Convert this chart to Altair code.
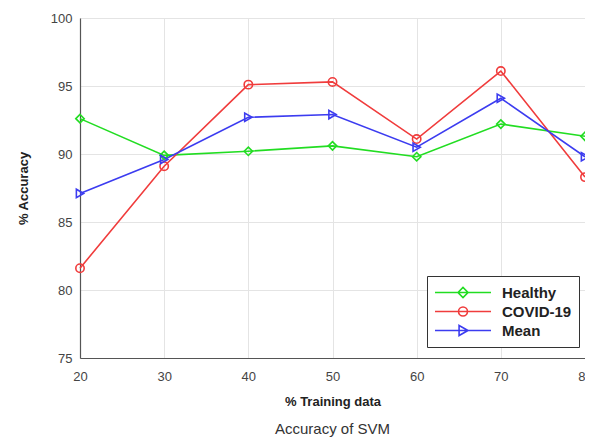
import altair as alt
import pandas as pd

training = [20, 30, 40, 50, 60, 70, 80]
healthy = [92.6, 89.9, 90.2, 90.6, 89.8, 92.2, 91.3]
covid = [81.6, 89.1, 95.1, 95.3, 91.1, 96.1, 88.3]
mean = [87.1, 89.6, 92.7, 92.9, 90.5, 94.1, 89.8]
series = ["Healthy", "COVID-19", "Mean"]
colors = ["#22dd22", "#f03c3c", "#3c3cf0"]
marker_shapes = ["diamond", "circle", "triangle-right"]
legend_paths = [
    "M-1,0H1M-0.18,0L0,-0.18L0.18,0L0,0.18Z",
    "M-1,0H1M0.16,0A0.16,0.16 0 1,1 -0.16,0A0.16,0.16 0 1,1 0.16,0",
    "M-1,0H1M-0.14,-0.18L0.18,0L-0.14,0.18Z",
]
y_ticks = [75, 80, 85, 90, 95, 100]

rows = []
for name, vals in zip(series, [healthy, covid, mean]):
    for t, v in zip(training, vals):
        rows.append({"training": t, "accuracy": v, "series": name})
df = pd.DataFrame(rows)

FONT = "Liberation Sans"

x = alt.X("training:Q",
          scale=alt.Scale(domain=[20, 80], nice=False, zero=False),
          axis=alt.Axis(values=training, title="% Training data", grid=True,
                        ticks=False, labelPadding=12, titlePadding=12,
                        labelFlush=False, labelOverlap=False,
                        titleFontWeight="bold", titleFontSize=13,
                        labelFontSize=13, format="d"))
y = alt.Y("accuracy:Q",
          scale=alt.Scale(domain=[75, 100], nice=False, zero=False),
          axis=alt.Axis(values=y_ticks, title="% Accuracy", grid=True,
                        ticks=False, labelPadding=8, titlePadding=20,
                        titleFontWeight="bold", titleFontSize=13,
                        labelFontSize=13))

color_scale = alt.Scale(domain=series, range=colors)

leg = dict(
    title=None, orient="none", legendX=347, legendY=258,
    strokeColor="#333333", fillColor="white", padding=7,
    symbolSize=3136, symbolStrokeWidth=1.6, symbolOpacity=1,
    clipHeight=19, rowPadding=0, labelOffset=10,
    labelFontSize=15, labelFontWeight="bold", labelColor="#222222",
    labelFont=FONT, cornerRadius=0,
)

base = alt.Chart(df)

legend_layer = base.mark_point(filled=False, opacity=0).encode(
    x=x, y=y,
    color=alt.Color("series:N", scale=color_scale, legend=alt.Legend(**leg)),
    shape=alt.Shape("series:N", scale=alt.Scale(domain=series, range=legend_paths),
                    legend=alt.Legend(**leg)),
)

lines = base.mark_line(strokeWidth=1.6).encode(
    x=x, y=y, color=alt.Color("series:N", scale=color_scale, legend=None)
)

point_layers = []
for s, shp in zip(series, marker_shapes):
    point_layers.append(
        base.transform_filter(alt.datum.series == s)
        .mark_point(shape=shp, filled=False, size=70, strokeWidth=1.6, opacity=1)
        .encode(x=x, y=y,
                color=alt.Color("series:N", scale=color_scale, legend=None))
    )

chart = alt.layer(legend_layer, lines, *point_layers).properties(
    width=505, height=340,
    autosize=alt.AutoSizeParams(type="none"),
    padding={"left": 72, "top": 10, "right": 0, "bottom": 79},
    title=alt.TitleParams("Accuracy of SVM", orient="bottom", fontSize=15,
                          fontWeight="normal", color="#333333", font=FONT,
                          offset=14),
).configure_axis(
    labelFont=FONT, titleFont=FONT, labelColor="#444444", titleColor="#222222",
    gridColor="#e4e4e4", domainColor="#555555", domainWidth=1.2,
).configure_view(stroke=None)

chart.save("out.html", embed_options={"renderer": "svg", "actions": False})
